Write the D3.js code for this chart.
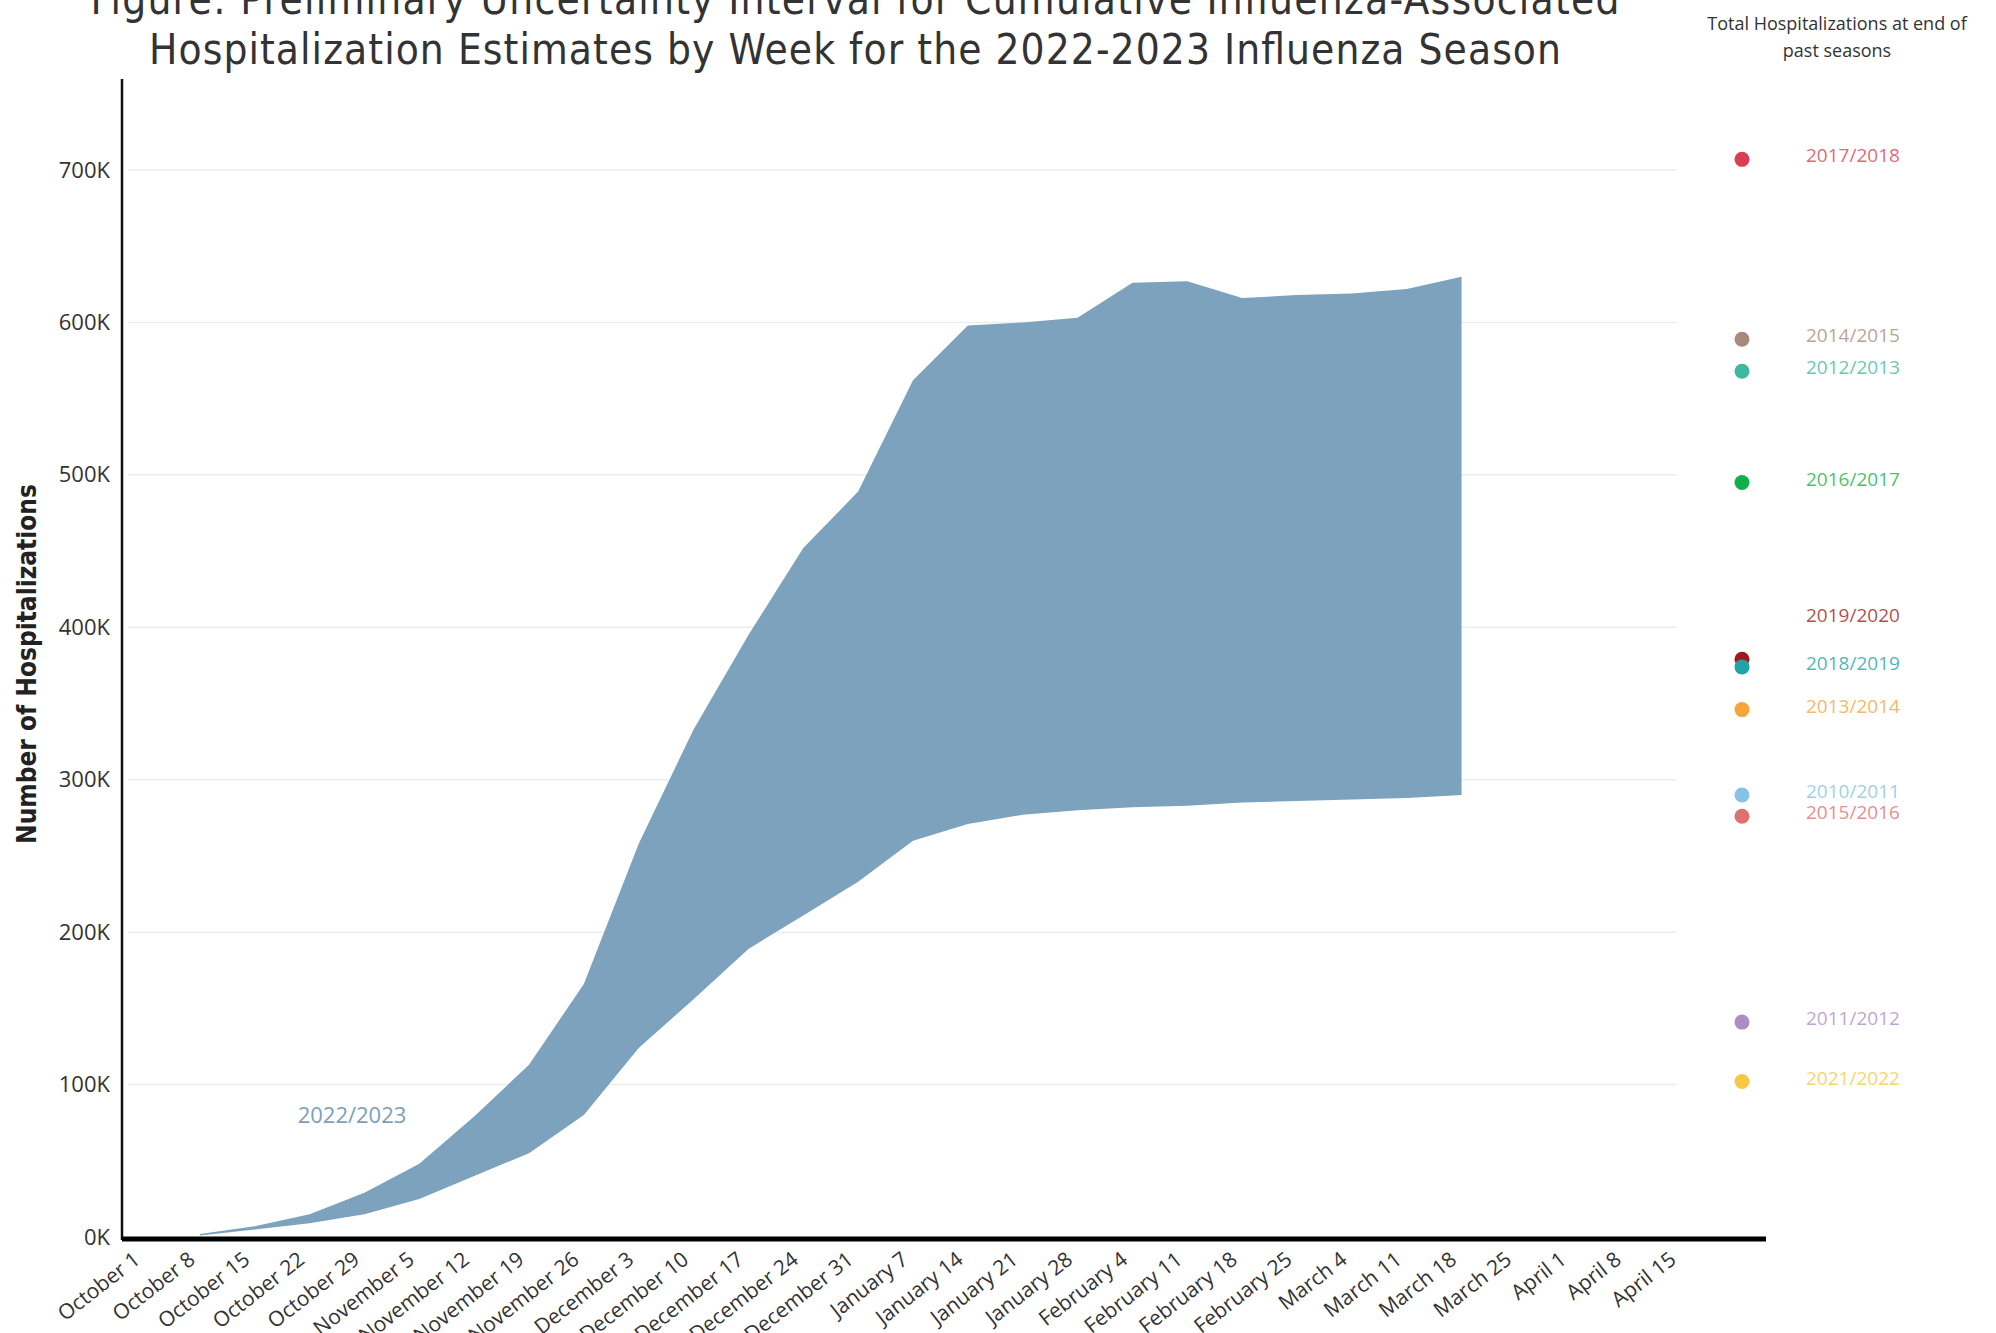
<!DOCTYPE html>
<html lang="en">
<head>
  <meta charset="UTF-8">
  <title>Cumulative Influenza-Associated Hospitalizations 2022-2023</title>
  <style>
    body { margin: 0; background: #fff; }
    svg { display: block; }
  </style>
</head>
<body>
  <svg id="chart" width="1996" height="1333"></svg>
<script src="https://cdn.jsdelivr.net/npm/d3@7"></script>
<script>
  // weeks on the x axis
  let weeks = ["October 1", "October 8", "October 15", "October 22", "October 29",
               "November 5", "November 12", "November 19", "November 26",
               "December 3", "December 10", "December 17", "December 24", "December 31",
               "January 7", "January 14", "January 21", "January 28",
               "February 4", "February 11", "February 18", "February 25",
               "March 4", "March 11", "March 18", "March 25",
               "April 1", "April 8", "April 15"]

  // uncertainty interval, null where there is no estimate yet
  let upper = [null, 2000, 7000, 15000, 29000, 48000, 79000, 113000, 166000,
               258000, 333000, 395000, 452000, 489000,
               562000, 598000, 600000, 603000,
               626000, 627000, 616000, 618000,
               619000, 622000, 630000, null, null, null, null]
  let lower = [null, 1000, 5000, 9000, 15000, 25000, 40000, 55000, 80000,
               124000, 156000, 189000, 211000, 233000,
               260000, 271000, 277000, 280000,
               282000, 283000, 285000, 286000,
               287000, 288000, 290000, null, null, null, null]

  // totals at end of past seasons
  let seasons = ["2017/2018", "2014/2015", "2012/2013", "2016/2017", "2019/2020", "2018/2019",
                 "2013/2014", "2010/2011", "2015/2016", "2011/2012", "2021/2022"]
  let seasonTotals = [707000, 589000, 568000, 495000, 379000, 374000,
                      346000, 290000, 276000, 141000, 102000]
  let seasonColors = ["#d93e52", "#a88a7c", "#3fb8a0", "#12b04a", "#9e1a1a", "#1ea3a6",
                      "#f5a53a", "#86c2e6", "#e07070", "#b08cc4", "#f7c843"]

  let yTicks = [0, 100000, 200000, 300000, 400000, 500000, 600000, 700000]

  let svg = d3.select("#chart")
  let tickFont = "'Open Sans', 'Noto Sans', sans-serif"
  let narrowFont = "'Liberation Sans Narrow', 'DejaVu Sans Condensed', sans-serif"

  let y = d3.scaleLinear().domain([0, 700000]).range([1237, 170])
  let x = d3.scalePoint().domain(weeks).range([145, 1681])

  // title
  let titleLines = ["Figure: Preliminary Uncertainty Interval for Cumulative Influenza-Associated",
                    "Hospitalization Estimates by Week for the 2022-2023 Influenza Season"]
  let titleWidths = [1529, 1412]
  svg.append("g")
     .selectAll("text")
     .data(titleLines)
     .enter()
     .append("text")
     .attr("x", 855)
     .attr("y", (d, i) => 14 + i * 50)
     .attr("text-anchor", "middle")
     .attr("textLength", (d, i) => titleWidths[i])
     .attr("lengthAdjust", "spacing")
     .style("font-family", narrowFont)
     .style("font-size", "42px")
     .attr("fill", "#333")
     .text(d => d)

  // gridlines
  svg.append("g")
     .attr("class", "grid")
     .selectAll("line")
     .data(yTicks.filter(d => d > 0))
     .enter()
     .append("line")
     .attr("x1", 128)
     .attr("x2", 1677)
     .attr("y1", d => y(d))
     .attr("y2", d => y(d))
     .attr("stroke", "#ededed")
     .attr("stroke-width", 1.5)

  // interval band
  let band = d3.area()
               .defined((d, i) => upper[i] != null && lower[i] != null)
               .x(d => x(d))
               .y0((d, i) => y(lower[i]))
               .y1((d, i) => y(upper[i]))

  svg.append("path")
     .datum(weeks)
     .attr("d", band)
     .attr("fill", "#7ca2bd")

  svg.append("text")
     .attr("x", 352)
     .attr("y", 1117)
     .attr("text-anchor", "middle")
     .attr("dominant-baseline", "middle")
     .style("font-family", tickFont)
     .style("font-size", "22px")
     .attr("fill", "#7b9fbb")
     .text("2022/2023")

  // y axis
  let yAxis = d3.axisLeft(y)
                .tickValues(yTicks)
                .tickSize(0)
                .tickPadding(12)
                .tickFormat(d => (d / 1000) + "K")
  let yg = svg.append("g")
              .attr("transform", "translate(122,0)")
              .call(yAxis)
  yg.select(".domain").remove()
  yg.selectAll("text")
    .style("font-family", tickFont)
    .style("font-size", "22px")
    .attr("fill", "#333")

  svg.append("line")
     .attr("x1", 122).attr("x2", 122)
     .attr("y1", 79).attr("y2", 1240)
     .attr("stroke", "#111")
     .attr("stroke-width", 2.5)

  svg.append("text")
     .attr("transform", "translate(28,664) rotate(-90)")
     .attr("text-anchor", "middle")
     .attr("dominant-baseline", "middle")
     .style("font-family", narrowFont)
     .style("font-weight", "bold")
     .style("font-size", "26px")
     .attr("fill", "#222")
     .text("Number of Hospitalizations")

  // x axis
  let xAxis = d3.axisBottom(x).tickSize(0).tickPadding(0)
  let xg = svg.append("g")
              .attr("transform", "translate(0,1239)")
              .call(xAxis)
  xg.select(".domain").remove()
  xg.selectAll("text")
    .attr("text-anchor", "end")
    .attr("dy", null)
    .attr("y", 0)
    .attr("transform", "translate(-4,23) rotate(-38)")
    .style("font-family", tickFont)
    .style("font-size", "21px")
    .attr("fill", "#333")

  svg.append("line")
     .attr("x1", 122).attr("x2", 1766)
     .attr("y1", 1239).attr("y2", 1239)
     .attr("stroke", "#000")
     .attr("stroke-width", 5)

  // past seasons panel
  let legend = svg.append("g").attr("class", "legend")
  legend.selectAll("text.head")
        .data(["Total Hospitalizations at end of", "past seasons"])
        .enter()
        .append("text")
        .attr("class", "head")
        .attr("x", 1837)
        .attr("y", (d, i) => 30 + i * 27)
        .attr("text-anchor", "middle")
        .style("font-family", tickFont)
        .style("font-size", "18px")
        .attr("fill", "#333")
        .text(d => d)

  legend.selectAll("circle")
        .data(seasons)
        .enter()
        .append("circle")
        .attr("cx", 1742)
        .attr("cy", (d, i) => y(seasonTotals[i]))
        .attr("r", 7.5)
        .attr("fill", (d, i) => seasonColors[i])

  // labels that would collide with a neighbour just below get lifted
  let labelY = seasonTotals.map(v => y(v))
  for (let i = 0; i < labelY.length - 1; i++) {
    if (Math.abs(labelY[i + 1] - labelY[i]) < 12) labelY[i] -= 40
  }

  legend.selectAll("text.season")
        .data(seasons)
        .enter()
        .append("text")
        .attr("class", "season")
        .attr("x", 1806)
        .attr("y", (d, i) => labelY[i] - 2)
        .attr("dominant-baseline", "middle")
        .style("font-family", tickFont)
        .style("font-size", "19px")
        .attr("fill", (d, i) => seasonColors[i])
        .attr("fill-opacity", 0.8)
        .text(d => d)
</script>
</body>
</html>
